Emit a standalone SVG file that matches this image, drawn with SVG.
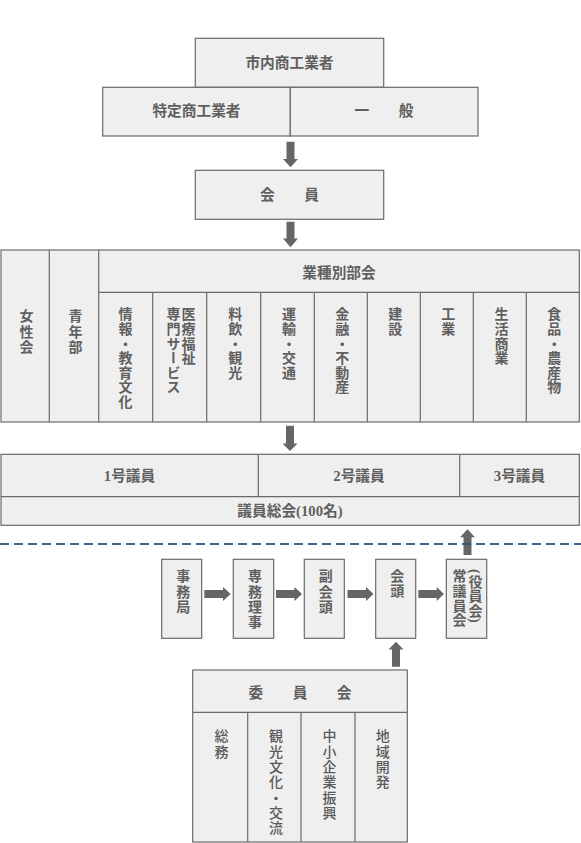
<svg xmlns="http://www.w3.org/2000/svg" width="581" height="843" viewBox="0 0 581 843">
<style>
.box{fill:#efefef;stroke:#6a6a6a;stroke-width:1.2}
.ln{stroke:#6a6a6a;stroke-width:1.2;fill:none}
.t{font-family:"Liberation Serif","Noto Sans CJK JP",serif;font-size:14px;font-weight:bold;fill:#5f5f5f}
.h{text-anchor:middle;dominant-baseline:central;font-size:14.7px}
.v{writing-mode:vertical-rl;text-anchor:start;letter-spacing:0.6px}
.v2{letter-spacing:1.3px}
.lt{font-weight:500;fill:#5a5a5a}
.arr{fill:#666}
.dash{stroke:#2d5580;stroke-width:2;stroke-dasharray:9 5;opacity:0.9}
</style>
<rect width="581" height="843" fill="#fff"/>

<g id="shinai">
<rect class="box" x="195.3" y="38.3" width="188.4" height="49"/>
<text class="t h" x="289.5" y="62.5">市内商工業者</text>
</g>
<g id="tokutei">
<rect class="box" x="102.7" y="87.3" width="187.6" height="48.7"/>
<text class="t h" x="196.5" y="111">特定商工業者</text>
</g>
<g id="ippan">
<rect class="box" x="290.3" y="87.3" width="187.7" height="48.7"/>
<text class="t h" x="384" y="111">一　　般</text>
</g>

<g id="kaiin">
<rect class="box" x="195.3" y="170.3" width="188.4" height="49"/>
<text class="t h" x="289.5" y="195">会　　員</text>
</g>

<g id="bukai">
<rect class="box" x="1" y="250" width="578.3" height="172"/>
<line class="ln" x1="49.3" y1="250" x2="49.3" y2="422"/>
<line class="ln" x1="98.7" y1="250" x2="98.7" y2="422"/>
<line class="ln" x1="98.7" y1="292.3" x2="579.3" y2="292.3"/>
<line class="ln" x1="152.7" y1="292.3" x2="152.7" y2="422"/>
<line class="ln" x1="206.7" y1="292.3" x2="206.7" y2="422"/>
<line class="ln" x1="260.7" y1="292.3" x2="260.7" y2="422"/>
<line class="ln" x1="314.3" y1="292.3" x2="314.3" y2="422"/>
<line class="ln" x1="367.3" y1="292.3" x2="367.3" y2="422"/>
<line class="ln" x1="420.3" y1="292.3" x2="420.3" y2="422"/>
<line class="ln" x1="473.3" y1="292.3" x2="473.3" y2="422"/>
<line class="ln" x1="526.3" y1="292.3" x2="526.3" y2="422"/>
<text class="t v v2" x="25" y="309">女性会</text>
<text class="t v v2" x="74" y="309">青年部</text>
<text class="t h" x="339" y="273">業種別部会</text>
<text class="t v" x="124" y="307">情報・教育文化</text>
<text class="t v" x="187" y="307">医療福祉</text>
<text class="t v" x="172" y="307">専門サービス</text>
<text class="t v" x="233.7" y="307">料飲・観光</text>
<text class="t v" x="287.5" y="307">運輸・交通</text>
<text class="t v" x="340.8" y="307">金融・不動産</text>
<text class="t v" x="393.8" y="307">建設</text>
<text class="t v" x="446.8" y="307">工業</text>
<text class="t v" x="500" y="307">生活商業</text>
<text class="t v" x="552.8" y="307">食品・農産物</text>
</g>

<g id="giin">
<rect class="box" x="1" y="454.3" width="578.3" height="71"/>
<line class="ln" x1="1" y1="496.7" x2="579.3" y2="496.7"/>
<line class="ln" x1="258.3" y1="454.3" x2="258.3" y2="496.7"/>
<line class="ln" x1="459.7" y1="454.3" x2="459.7" y2="496.7"/>
<text class="t h" x="129.5" y="475.5">1号議員</text>
<text class="t h" x="359" y="475.5">2号議員</text>
<text class="t h" x="519.5" y="475.5">3号議員</text>
<text class="t h" x="290" y="511">議員総会(100名)</text>
</g>

<g id="jimukyoku">
<rect class="box" x="161.7" y="559.3" width="40" height="79"/>
<text class="t v v2" x="181.7" y="569">事務局</text>
</g>
<g id="senmu">
<rect class="box" x="233.3" y="559.3" width="40.4" height="79"/>
<text class="t v v2" x="253.5" y="569">専務理事</text>
</g>
<g id="fukukaito">
<rect class="box" x="304.3" y="559.3" width="40" height="79"/>
<text class="t v v2" x="324.3" y="569">副会頭</text>
</g>
<g id="kaito">
<rect class="box" x="375.7" y="559.3" width="40" height="79"/>
<text class="t v" x="395.7" y="569">会頭</text>
</g>
<g id="jogiinkai">
<rect class="box" x="446.3" y="559.3" width="40.4" height="79"/>
<text class="t v" x="458" y="569">常議員会</text>
<text class="t v" x="474" y="569">(役員会)</text>
</g>

<g id="iinkai">
<rect class="box" x="192.7" y="670" width="214.6" height="172"/>
<line class="ln" x1="192.7" y1="712.3" x2="407.3" y2="712.3"/>
<line class="ln" x1="247.7" y1="712.3" x2="247.7" y2="842"/>
<line class="ln" x1="301" y1="712.3" x2="301" y2="842"/>
<line class="ln" x1="355" y1="712.3" x2="355" y2="842"/>
<text class="t h" x="300" y="692.5">委　　員　　会</text>
<text class="t v v2 lt" x="220" y="729">総務</text>
<text class="t v v2 lt" x="274.4" y="729">観光文化・交流</text>
<text class="t v v2 lt" x="328" y="729">中小企業振興</text>
<text class="t v v2 lt" x="381.2" y="729">地域開発</text>
</g>

<g id="connectors">
<polygon class="arr" points="286.5,141.7 294.5,141.7 294.5,159 298,159 290.5,167.3 283,159 286.5,159"/>
<polygon class="arr" points="286.5,221.7 294.5,221.7 294.5,238.5 298,238.5 290.5,247.3 283,238.5 286.5,238.5"/>
<polygon class="arr" points="286,425.7 294,425.7 294,443.5 297.5,443.5 290,451 282.5,443.5 286,443.5"/>
<polygon class="arr" points="204.3,590 223,590 223,587 230.7,594 223,601 223,598 204.3,598"/>
<polygon class="arr" points="276,590 294.5,590 294.5,587 302,594 294.5,601 294.5,598 276,598"/>
<polygon class="arr" points="347.5,590 366,590 366,587 373.5,594 366,601 366,598 347.5,598"/>
<polygon class="arr" points="418.3,590 436.7,590 436.7,587 444,594 436.7,601 436.7,598 418.3,598"/>
<polygon class="arr" points="392,666.7 400,666.7 400,649.5 403.5,649.5 396,641.7 388.5,649.5 392,649.5"/>
<polygon class="arr" points="463.5,555 471.5,555 471.5,537.3 475,537.3 467.5,529.3 460,537.3 463.5,537.3"/>
<line class="dash" x1="0" y1="544" x2="581" y2="544"/>
</g>
</svg>
